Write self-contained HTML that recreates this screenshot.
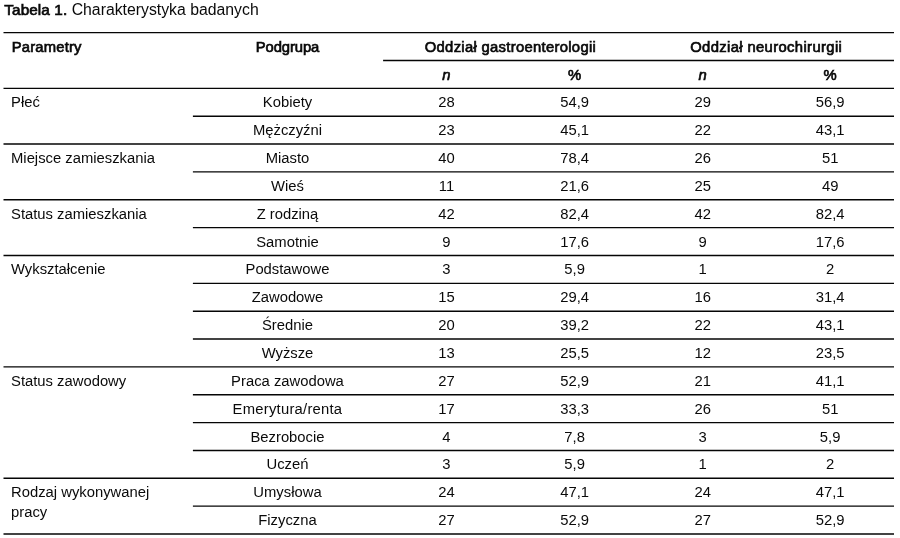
<!DOCTYPE html>
<html lang="pl">
<head>
<meta charset="utf-8">
<title>Tabela 1</title>
<style>
html,body{margin:0;padding:0;background:#fff;}
body{width:900px;height:538px;overflow:hidden;position:relative;font-family:"Liberation Sans",sans-serif;color:#0a0a0a;}
.cap{position:absolute;left:4.3px;top:0.4px;font-size:15.8px;line-height:20px;white-space:nowrap;}
.cap b{font-weight:normal;-webkit-text-stroke:0.7px #0a0a0a;letter-spacing:0.1px;font-size:15.3px;}
table{position:absolute;left:3px;top:32.65px;width:932.67px;border-collapse:collapse;table-layout:fixed;font-size:15.5px;transform:scaleX(0.955);transform-origin:0 0;}
td,th{height:27.853px;padding:0;text-align:center;vertical-align:top;line-height:20px;font-weight:normal;}
td>span,th>span{display:block;padding-top:4.1px;}
th{font-weight:normal;-webkit-text-stroke:0.7px #0a0a0a;}
.h1 span{letter-spacing:0.2px;position:relative;left:0.7px;}.h2 span{letter-spacing:-0.1px;}.h3 span{letter-spacing:0.32px;position:relative;left:-0.2px;}.h4 span{letter-spacing:0.38px;position:relative;left:0px;}
td.l,th.l{text-align:left;padding-left:8.4px;}
.rules{position:absolute;left:0;top:0;}
i{font-weight:normal;font-style:italic;}
</style>
</head>
<body>
<div class="cap"><b>Tabela 1.</b> Charakterystyka badanych</div>
<table>
<colgroup><col style="width:198.43px"><col style="width:198.95px"><col style="width:134.03px"><col style="width:134.35px"><col style="width:133.93px"><col style="width:132.97px"></colgroup>
<tr><th class="l bt h1" rowspan="2"><span>Parametry</span></th><th class="bt h2" rowspan="2"><span>Podgrupa</span></th><th class="bt h3" colspan="2"><span>Oddział gastroenterologii</span></th><th class="bt h4" colspan="2"><span>Oddział neurochirurgii</span></th></tr>
<tr><th class="bt"><span><i>n</i></span></th><th class="bt"><span>%</span></th><th class="bt"><span><i>n</i></span></th><th class="bt"><span>%</span></th></tr>
<tr><td class="l bt" rowspan="2"><span>Płeć</span></td><td class="bt"><span>Kobiety</span></td><td class="bt"><span>28</span></td><td class="bt"><span>54,9</span></td><td class="bt"><span>29</span></td><td class="bt"><span>56,9</span></td></tr>
<tr><td class="bt"><span>Mężczyźni</span></td><td class="bt"><span>23</span></td><td class="bt"><span>45,1</span></td><td class="bt"><span>22</span></td><td class="bt"><span>43,1</span></td></tr>
<tr><td class="l bt" rowspan="2"><span>Miejsce zamieszkania</span></td><td class="bt"><span>Miasto</span></td><td class="bt"><span>40</span></td><td class="bt"><span>78,4</span></td><td class="bt"><span>26</span></td><td class="bt"><span>51</span></td></tr>
<tr><td class="bt"><span>Wieś</span></td><td class="bt"><span>11</span></td><td class="bt"><span>21,6</span></td><td class="bt"><span>25</span></td><td class="bt"><span>49</span></td></tr>
<tr><td class="l bt" rowspan="2"><span>Status zamieszkania</span></td><td class="bt"><span>Z rodziną</span></td><td class="bt"><span>42</span></td><td class="bt"><span>82,4</span></td><td class="bt"><span>42</span></td><td class="bt"><span>82,4</span></td></tr>
<tr><td class="bt"><span>Samotnie</span></td><td class="bt"><span>9</span></td><td class="bt"><span>17,6</span></td><td class="bt"><span>9</span></td><td class="bt"><span>17,6</span></td></tr>
<tr><td class="l bt" rowspan="4"><span>Wykształcenie</span></td><td class="bt"><span>Podstawowe</span></td><td class="bt"><span>3</span></td><td class="bt"><span>5,9</span></td><td class="bt"><span>1</span></td><td class="bt"><span>2</span></td></tr>
<tr><td class="bt"><span>Zawodowe</span></td><td class="bt"><span>15</span></td><td class="bt"><span>29,4</span></td><td class="bt"><span>16</span></td><td class="bt"><span>31,4</span></td></tr>
<tr><td class="bt"><span>Średnie</span></td><td class="bt"><span>20</span></td><td class="bt"><span>39,2</span></td><td class="bt"><span>22</span></td><td class="bt"><span>43,1</span></td></tr>
<tr><td class="bt"><span>Wyższe</span></td><td class="bt"><span>13</span></td><td class="bt"><span>25,5</span></td><td class="bt"><span>12</span></td><td class="bt"><span>23,5</span></td></tr>
<tr><td class="l bt" rowspan="4"><span>Status zawodowy</span></td><td class="bt"><span>Praca zawodowa</span></td><td class="bt"><span>27</span></td><td class="bt"><span>52,9</span></td><td class="bt"><span>21</span></td><td class="bt"><span>41,1</span></td></tr>
<tr><td class="bt"><span style="letter-spacing:.25px">Emerytura/renta</span></td><td class="bt"><span>17</span></td><td class="bt"><span>33,3</span></td><td class="bt"><span>26</span></td><td class="bt"><span>51</span></td></tr>
<tr><td class="bt"><span>Bezrobocie</span></td><td class="bt"><span>4</span></td><td class="bt"><span>7,8</span></td><td class="bt"><span>3</span></td><td class="bt"><span>5,9</span></td></tr>
<tr><td class="bt"><span>Uczeń</span></td><td class="bt"><span>3</span></td><td class="bt"><span>5,9</span></td><td class="bt"><span>1</span></td><td class="bt"><span>2</span></td></tr>
<tr><td class="l bt bb" rowspan="2"><span>Rodzaj wykonywanej<br>pracy</span></td><td class="bt"><span>Umysłowa</span></td><td class="bt"><span>24</span></td><td class="bt"><span>47,1</span></td><td class="bt"><span>24</span></td><td class="bt"><span>47,1</span></td></tr>
<tr><td class="bt bb"><span>Fizyczna</span></td><td class="bt bb"><span>27</span></td><td class="bt bb"><span>52,9</span></td><td class="bt bb"><span>27</span></td><td class="bt bb"><span>52,9</span></td></tr>
</table>
<svg class="rules" width="900" height="538" viewBox="0 0 900 538"><g stroke="#050505" stroke-width="1.4" fill="none"><line x1="3.5" y1="32.65" x2="894" y2="32.65"/><line x1="383.1" y1="60.50" x2="894" y2="60.50"/><line x1="3.5" y1="88.36" x2="894" y2="88.36"/><line x1="192.9" y1="116.21" x2="894" y2="116.21"/><line x1="3.5" y1="144.06" x2="894" y2="144.06"/><line x1="192.9" y1="171.92" x2="894" y2="171.92"/><line x1="3.5" y1="199.77" x2="894" y2="199.77"/><line x1="192.9" y1="227.62" x2="894" y2="227.62"/><line x1="3.5" y1="255.47" x2="894" y2="255.47"/><line x1="192.9" y1="283.33" x2="894" y2="283.33"/><line x1="192.9" y1="311.18" x2="894" y2="311.18"/><line x1="192.9" y1="339.03" x2="894" y2="339.03"/><line x1="3.5" y1="366.89" x2="894" y2="366.89"/><line x1="192.9" y1="394.74" x2="894" y2="394.74"/><line x1="192.9" y1="422.59" x2="894" y2="422.59"/><line x1="192.9" y1="450.44" x2="894" y2="450.44"/><line x1="3.5" y1="478.30" x2="894" y2="478.30"/><line x1="192.9" y1="506.15" x2="894" y2="506.15"/><line x1="3.5" y1="534.00" x2="894" y2="534.00"/></g></svg>
</body>
</html>
